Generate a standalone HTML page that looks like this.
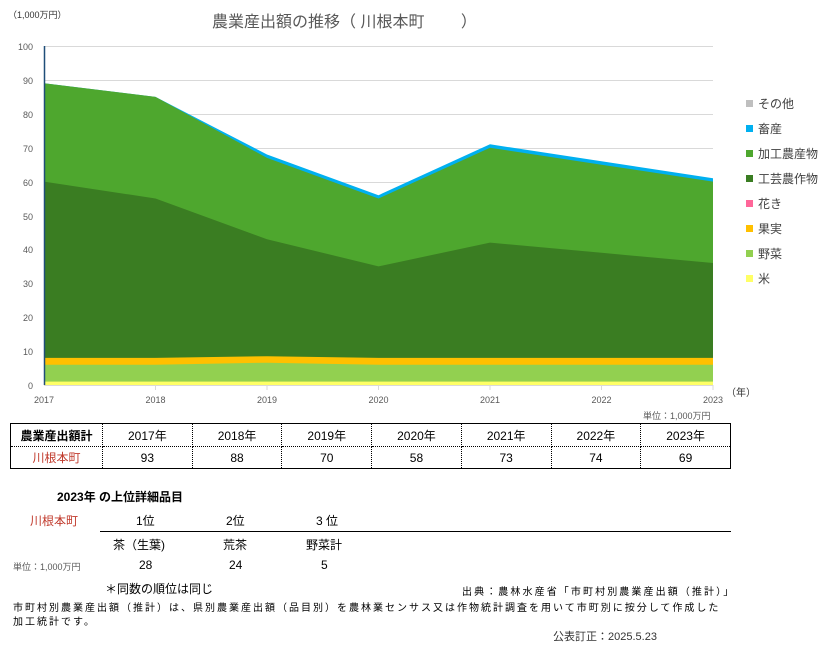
<!DOCTYPE html>
<html><head><meta charset="utf-8"><style>
body{margin:0;background:#fff;font-family:"Liberation Sans","Noto Sans CJK JP",sans-serif;}
.a{position:absolute;white-space:nowrap;}
</style></head><body>
<div style="position:relative;width:833px;height:648px;overflow:hidden;">
<svg width="833" height="648" style="position:absolute;left:0;top:0" font-family="Liberation Sans, Noto Sans CJK JP, sans-serif">
<g stroke="#d9d9d9" stroke-width="1">
<line x1="44" x2="713" y1="46.5" y2="46.5"/><line x1="44" x2="713" y1="80.5" y2="80.5"/><line x1="44" x2="713" y1="114.5" y2="114.5"/><line x1="44" x2="713" y1="148.5" y2="148.5"/><line x1="44" x2="713" y1="182.5" y2="182.5"/><line x1="44" x2="713" y1="216.5" y2="216.5"/><line x1="44" x2="713" y1="249.5" y2="249.5"/><line x1="44" x2="713" y1="283.5" y2="283.5"/><line x1="44" x2="713" y1="317.5" y2="317.5"/><line x1="44" x2="713" y1="351.5" y2="351.5"/>
</g>
<polygon fill="#00b0f0" points="44,83.3 155.5,96.9 267,154.5 378.5,195.2 490,144.3 601.5,161.3 713,178.2 713,385 44,385"/>
<polygon fill="#4ea72e" points="44,83.3 155.5,96.9 267,157.9 378.5,198.5 490,147.7 601.5,164.7 713,181.6 713,385 44,385"/>
<polygon fill="#3a7d22" points="44,181.6 155.5,198.5 267,239.2 378.5,266.4 490,242.6 601.5,252.8 713,263 713,385 44,385"/>
<polygon fill="#ffc000" points="44,357.9 155.5,357.9 267,356.2 378.5,357.9 490,357.9 601.5,357.9 713,357.9 713,385 44,385"/>
<polygon fill="#92d050" points="44,364.7 155.5,364.7 267,362.7 378.5,364.7 490,364.7 601.5,364.7 713,364.7 713,385 44,385"/>
<rect x="44" y="381.6" width="669" height="3.4" fill="#ffff66"/>
<line x1="44" x2="713" y1="385.5" y2="385.5" stroke="#d9d9d9"/>
<line x1="44.5" x2="44.5" y1="46" y2="385" stroke="#1f4e79" stroke-width="1.5"/>
<g stroke="#d9d9d9"><line x1="155.5" x2="155.5" y1="385" y2="390"/><line x1="267" x2="267" y1="385" y2="390"/><line x1="378.5" x2="378.5" y1="385" y2="390"/><line x1="490" x2="490" y1="385" y2="390"/><line x1="601.5" x2="601.5" y1="385" y2="390"/><line x1="713" x2="713" y1="385" y2="390"/></g>
<g font-size="9" fill="#595959" text-anchor="end">
<text x="33" y="50">100</text><text x="33" y="84">90</text><text x="33" y="118">80</text><text x="33" y="152">70</text><text x="33" y="186">60</text><text x="33" y="220">50</text><text x="33" y="253">40</text><text x="33" y="287">30</text><text x="33" y="321">20</text><text x="33" y="355">10</text><text x="33" y="389">0</text>
</g>
<g font-size="9" fill="#595959" text-anchor="middle">
<text x="44" y="403">2017</text><text x="155.5" y="403">2018</text><text x="267" y="403">2019</text><text x="378.5" y="403">2020</text><text x="490" y="403">2021</text><text x="601.5" y="403">2022</text><text x="713" y="403">2023</text>
</g>
<g font-size="12" fill="#404040">
<rect x="746" y="100" width="7" height="7" fill="#bfbfbf"/><text x="758" y="108">その他</text>
<rect x="746" y="125" width="7" height="7" fill="#00b0f0"/><text x="758" y="133">畜産</text>
<rect x="746" y="150" width="7" height="7" fill="#4ea72e"/><text x="758" y="158">加工農産物</text>
<rect x="746" y="175" width="7" height="7" fill="#3a7d22"/><text x="758" y="183">工芸農作物</text>
<rect x="746" y="200" width="7" height="7" fill="#ff6699"/><text x="758" y="208">花き</text>
<rect x="746" y="225" width="7" height="7" fill="#ffc000"/><text x="758" y="233">果実</text>
<rect x="746" y="250" width="7" height="7" fill="#92d050"/><text x="758" y="258">野菜</text>
<rect x="746" y="275" width="7" height="7" fill="#ffff66"/><text x="758" y="283">米</text>
</g>
</svg>
<div class="a" style="left:8px;top:8px;font-size:9px;color:#333">（1,000万円）</div>
<div class="a" style="left:212px;top:8px;font-size:16px;color:#595959">農業産出額の推移（ 川根本町　　 ）</div>
<div class="a" style="left:726px;top:384px;font-size:10px;color:#333">（年）</div>
<div class="a" style="left:643px;top:409px;font-size:9px;color:#595959">単位：1,000万円</div>
<table style="position:absolute;left:10px;top:423px;width:721px;height:46px;border-collapse:collapse;border:1.5px solid #000;font-size:12px;text-align:center;table-layout:fixed;">
<tr style="height:23px"><td style="width:89px;font-weight:bold;border-right:1px dotted #000;border-bottom:1px dotted #000">農業産出額計</td><td style="border-right:1px dotted #000;border-bottom:1px dotted #000">2017年</td><td style="border-right:1px dotted #000;border-bottom:1px dotted #000">2018年</td><td style="border-right:1px dotted #000;border-bottom:1px dotted #000">2019年</td><td style="border-right:1px dotted #000;border-bottom:1px dotted #000">2020年</td><td style="border-right:1px dotted #000;border-bottom:1px dotted #000">2021年</td><td style="border-right:1px dotted #000;border-bottom:1px dotted #000">2022年</td><td style="border-bottom:1px dotted #000">2023年</td></tr>
<tr><td style="color:#c0392b;border-right:1px dotted #000">川根本町</td><td style="border-right:1px dotted #000">93</td><td style="border-right:1px dotted #000">88</td><td style="border-right:1px dotted #000">70</td><td style="border-right:1px dotted #000">58</td><td style="border-right:1px dotted #000">73</td><td style="border-right:1px dotted #000">74</td><td>69</td></tr>
</table>
<div class="a" style="left:57px;top:488px;font-size:12px;font-weight:bold">2023年 の上位詳細品目</div>
<div class="a" style="left:30px;top:512px;font-size:12px;color:#c0392b">川根本町</div>
<div class="a" style="left:136px;top:512px;font-size:12px">1位</div>
<div class="a" style="left:226px;top:512px;font-size:12px">2位</div>
<div class="a" style="left:316px;top:512px;font-size:12px">3 位</div>
<div style="position:absolute;left:100px;top:531px;width:631px;height:1px;background:#000"></div>
<div class="a" style="left:113px;top:536px;font-size:12px">茶（生葉)</div>
<div class="a" style="left:223px;top:536px;font-size:12px">荒茶</div>
<div class="a" style="left:306px;top:536px;font-size:12px">野菜計</div>
<div class="a" style="left:13px;top:560px;font-size:9px;color:#595959">単位：1,000万円</div>
<div class="a" style="left:139px;top:558px;font-size:12px">28</div>
<div class="a" style="left:229px;top:558px;font-size:12px">24</div>
<div class="a" style="left:321px;top:558px;font-size:12px">5</div>
<div class="a" style="left:105px;top:580px;font-size:12px">＊同数の順位は同じ</div>
<div class="a" style="left:462px;top:583px;font-size:10px;letter-spacing:2.1px">出典：農林水産省「市町村別農業産出額（推計）」</div>
<div class="a" style="left:13px;top:599px;font-size:10px;letter-spacing:2px">市町村別農業産出額（推計）は、県別農業産出額（品目別）を農林業センサス又は作物統計調査を用いて市町別に按分して作成した</div>
<div class="a" style="left:13px;top:613px;font-size:10px;letter-spacing:2px">加工統計です。</div>
<div class="a" style="left:553px;top:628px;font-size:11px;color:#333">公表訂正：2025.5.23</div>
</div>
</body></html>
